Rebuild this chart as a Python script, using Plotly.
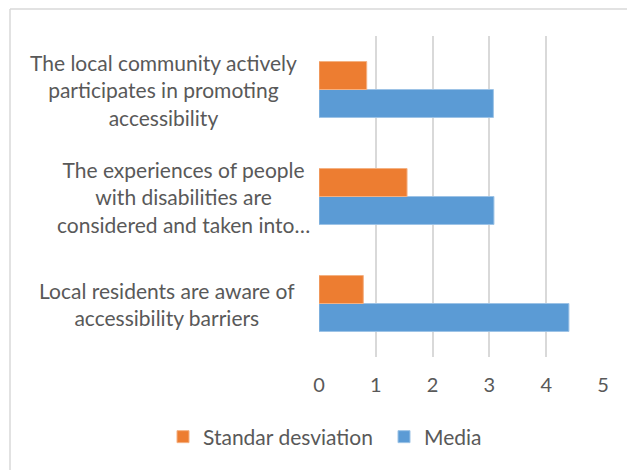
import plotly.graph_objects as go

categories = [
    "Local residents are aware of<br>accessibility barriers",
    "The experiences of people<br>with disabilities are<br>considered and taken into…",
    "The local community actively<br>participates in promoting<br>accessibility",
]
media = [4.40, 3.08, 3.07]
std_dev = [0.78, 1.55, 0.84]
x_ticks = [0, 1, 2, 3, 4, 5]

FONT = "Lato"
TXT = "#595959"
FS = 21

# page body adds an 8px offset; layout coordinates below are in figure pixels
W, H = 635, 470
L, T = 311, 28
pw, ph = 284, 321
R, B = W - L - pw, H - T - ph
def px(x): return (x - L) / pw
def py(y): return (T + ph - y) / ph

label_centers = [159, 175, 155]  # horizontal pixel centres of the category label blocks

fig = go.Figure()
fig.add_trace(go.Bar(y=categories, x=media, orientation="h", name="Media",
                     marker=dict(color="#5B9BD5", line=dict(color="#9DC3E6", width=1)),
                     legend="legend2"))
fig.add_trace(go.Bar(y=categories, x=std_dev, orientation="h", name="Standar desviation",
                     marker=dict(color="#ED7D31", line=dict(color="#F4B183", width=1)),
                     legend="legend"))

for i, c in enumerate(categories):
    fig.add_annotation(x=px(label_centers[i]), xref="paper", y=i, yref="y", text=c, showarrow=False,
                       align="center", xanchor="center", yanchor="middle",
                       font=dict(family=FONT, size=FS, color=TXT))

fig.add_shape(type="line", xref="paper", yref="paper", x0=px(2), x1=px(2), y0=py(1), y1=py(470),
              line=dict(color="#D9D9D9", width=1.5))
fig.add_shape(type="line", xref="paper", yref="paper", x0=px(2), x1=px(635), y0=py(1), y1=py(1),
              line=dict(color="#D9D9D9", width=1.5))

leg = dict(orientation="h", xanchor="left", xref="container", yanchor="middle", yref="container",
           font=dict(family=FONT, size=FS, color=TXT), bgcolor="rgba(0,0,0,0)")
fig.update_layout(
    width=W, height=H,
    margin=dict(l=L, r=R, t=T, b=B, autoexpand=False),
    paper_bgcolor="white", plot_bgcolor="white",
    barmode="group", bargap=0.477, bargroupgap=0,
    font=dict(family=FONT, size=FS, color=TXT),
    showlegend=True,
    legend=dict(leg, x=155 / W, y=1 - 429 / H),
    legend2=dict(leg, x=376 / W, y=1 - 429 / H),
    xaxis=dict(range=[0, 5], tickvals=x_ticks, showgrid=True, gridcolor="#D9D9D9", gridwidth=1.5,
               zeroline=False, showline=False, ticks="outside", ticklen=10, tickcolor="rgba(0,0,0,0)",
               tickfont=dict(size=20, color=TXT)),
    yaxis=dict(type="category", range=[-0.5, 2.5], showticklabels=False, showgrid=False,
               zeroline=False, showline=False, ticks=""),
)
fig.write_html("out.html")
